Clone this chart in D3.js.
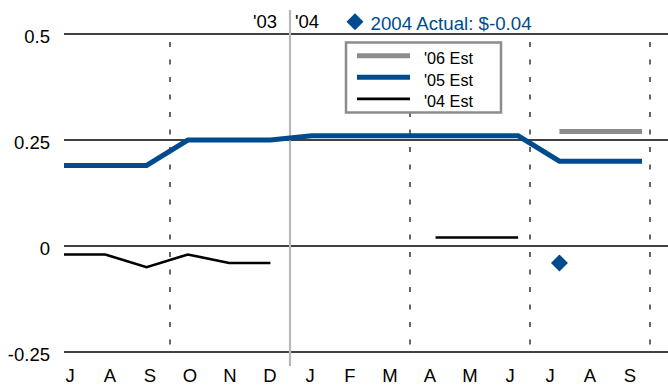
<!DOCTYPE html>
<html>
<head>
<meta charset="utf-8">
<script src="https://cdn.jsdelivr.net/npm/d3@7"></script>
<style>
  html, body { margin: 0; padding: 0; background: #fff; }
  svg { display: block; font-family: "Liberation Sans", Arial, sans-serif; }
</style>
</head>
<body>
<svg id="chart" width="668" height="385"></svg>
<script>
// ---- data ----
const months = ["J","A","S","O","N","D","J","F","M","A","M","J","J","A","S"];
const est05 = [0.19,0.19,0.19,0.25,0.25,0.25,0.26,0.26,0.26,0.26,0.26,0.26,0.20,0.20,0.20];
const est04 = [-0.02,-0.02,-0.05,-0.02,-0.04,-0.04,null,null,null,0.02,0.02,0.02,null,null,null];
const est06 = [null,null,null,null,null,null,null,null,null,null,null,null,0.27,0.27,0.27];
const actual2004 = [{ i: 12, v: -0.04 }];
const yTicks = [0.5, 0.25, 0, -0.25];
const yTickLabels = ["0.5", "0.25", "0", "-0.25"];
const yearLabels = ["'03", "'04"];
const legendLabels = ["'06 Est", "'05 Est", "'04 Est"];
const actualLabel = "2004 Actual: $-0.04";
const quarterBreaks = [2, 8, 11, 14];   // month index after which a dashed line falls
const yearBreak = 5;                     // month index after which the year changes

// ---- layout ----
const svg = d3.select("#chart");
const plotLeft = 64, plotRight = 668;
const blue = "#004b8d", grey = "#8c8c8c";

const y = d3.scaleLinear().domain([-0.25, 0.5]).range([352, 34]);
const xData = d3.scaleLinear().domain([0, months.length - 1]).range([plotLeft, 642]);
const xBand = d3.scaleBand().domain(d3.range(months.length)).range([50, 650]);

// horizontal grid lines
svg.append("g").selectAll("line").data(yTicks).join("line")
  .attr("x1", plotLeft).attr("x2", plotRight)
  .attr("y1", d => y(d)).attr("y2", d => y(d))
  .attr("stroke", "#000").attr("stroke-width", 1.5);

// y tick labels
svg.append("g").selectAll("text").data(yTicks).join("text")
  .attr("x", 50).attr("y", d => y(d) + 8.5)
  .attr("text-anchor", "end").attr("font-size", 18.5).attr("fill", "#000")
  .text((d, i) => yTickLabels[i]);

// quarter dashed lines
svg.append("g").selectAll("line").data(quarterBreaks).join("line")
  .attr("x1", d => xBand(d) + xBand.bandwidth()).attr("x2", d => xBand(d) + xBand.bandwidth())
  .attr("y1", 42).attr("y2", y(-0.25))
  .attr("stroke", "#000").attr("stroke-width", 1.2)
  .attr("stroke-dasharray", "5,12.5");

// year separator
const yx = xBand(yearBreak) + xBand.bandwidth();
svg.append("line")
  .attr("x1", yx).attr("x2", yx).attr("y1", 10).attr("y2", 366)
  .attr("stroke", "#b8b8b8").attr("stroke-width", 2.2);
svg.append("text").attr("x", yx - 13).attr("y", 28).attr("text-anchor", "end")
  .attr("font-size", 18.5).text(yearLabels[0]);
svg.append("text").attr("x", yx + 5).attr("y", 28).attr("text-anchor", "start")
  .attr("font-size", 18.5).text(yearLabels[1]);

// month labels
svg.append("g").selectAll("text").data(months).join("text")
  .attr("x", (d, i) => xBand(i) + xBand.bandwidth() / 2).attr("y", 381.5)
  .attr("text-anchor", "middle").attr("font-size", 18.5).text(d => d);

// series lines
const line = d3.line()
  .defined(d => d != null)
  .x((d, i) => xData(i)).y(d => y(d));
function drawSeries(vals, color, width) {
  svg.append("path")
    .attr("d", line(vals))
    .attr("fill", "none").attr("stroke", color).attr("stroke-width", width)
    .attr("stroke-linejoin", "miter").attr("stroke-linecap", "butt");
}
drawSeries(est04, "#000", 2.6);
drawSeries(est06, grey, 5);
drawSeries(est05, blue, 5);

// actual diamond
const diamond = d3.symbol().type(d3.symbolSquare).size(144);
svg.append("g").selectAll("path").data(actual2004).join("path")
  .attr("d", diamond())
  .attr("transform", d => `translate(${xData(d.i)},${y(d.v)}) rotate(45)`)
  .attr("fill", blue);

// top legend for actual
svg.append("path").attr("d", diamond())
  .attr("transform", "translate(355,21.7) rotate(45)").attr("fill", blue);
svg.append("text").attr("x", 370.5).attr("y", 30).attr("font-size", 18.7)
  .attr("fill", blue).text(actualLabel);

// legend box
const lg = svg.append("g");
lg.append("rect").attr("x", 346).attr("y", 42.5).attr("width", 155).attr("height", 70)
  .attr("fill", "#fff").attr("stroke", "#8c8c8c").attr("stroke-width", 2.5);
const legendStyles = [
  { color: grey, width: 5 },
  { color: blue, width: 5 },
  { color: "#000", width: 2.6 }
];
legendLabels.forEach((lab, k) => {
  const ly = 55.7 + k * 21.6;
  lg.append("line").attr("x1", 357).attr("x2", 410).attr("y1", ly).attr("y2", ly)
    .attr("stroke", legendStyles[k].color).attr("stroke-width", legendStyles[k].width);
  lg.append("text").attr("x", 424).attr("y", ly + 8.2).attr("font-size", 16.2).text(lab);
});
</script>
</body>
</html>
